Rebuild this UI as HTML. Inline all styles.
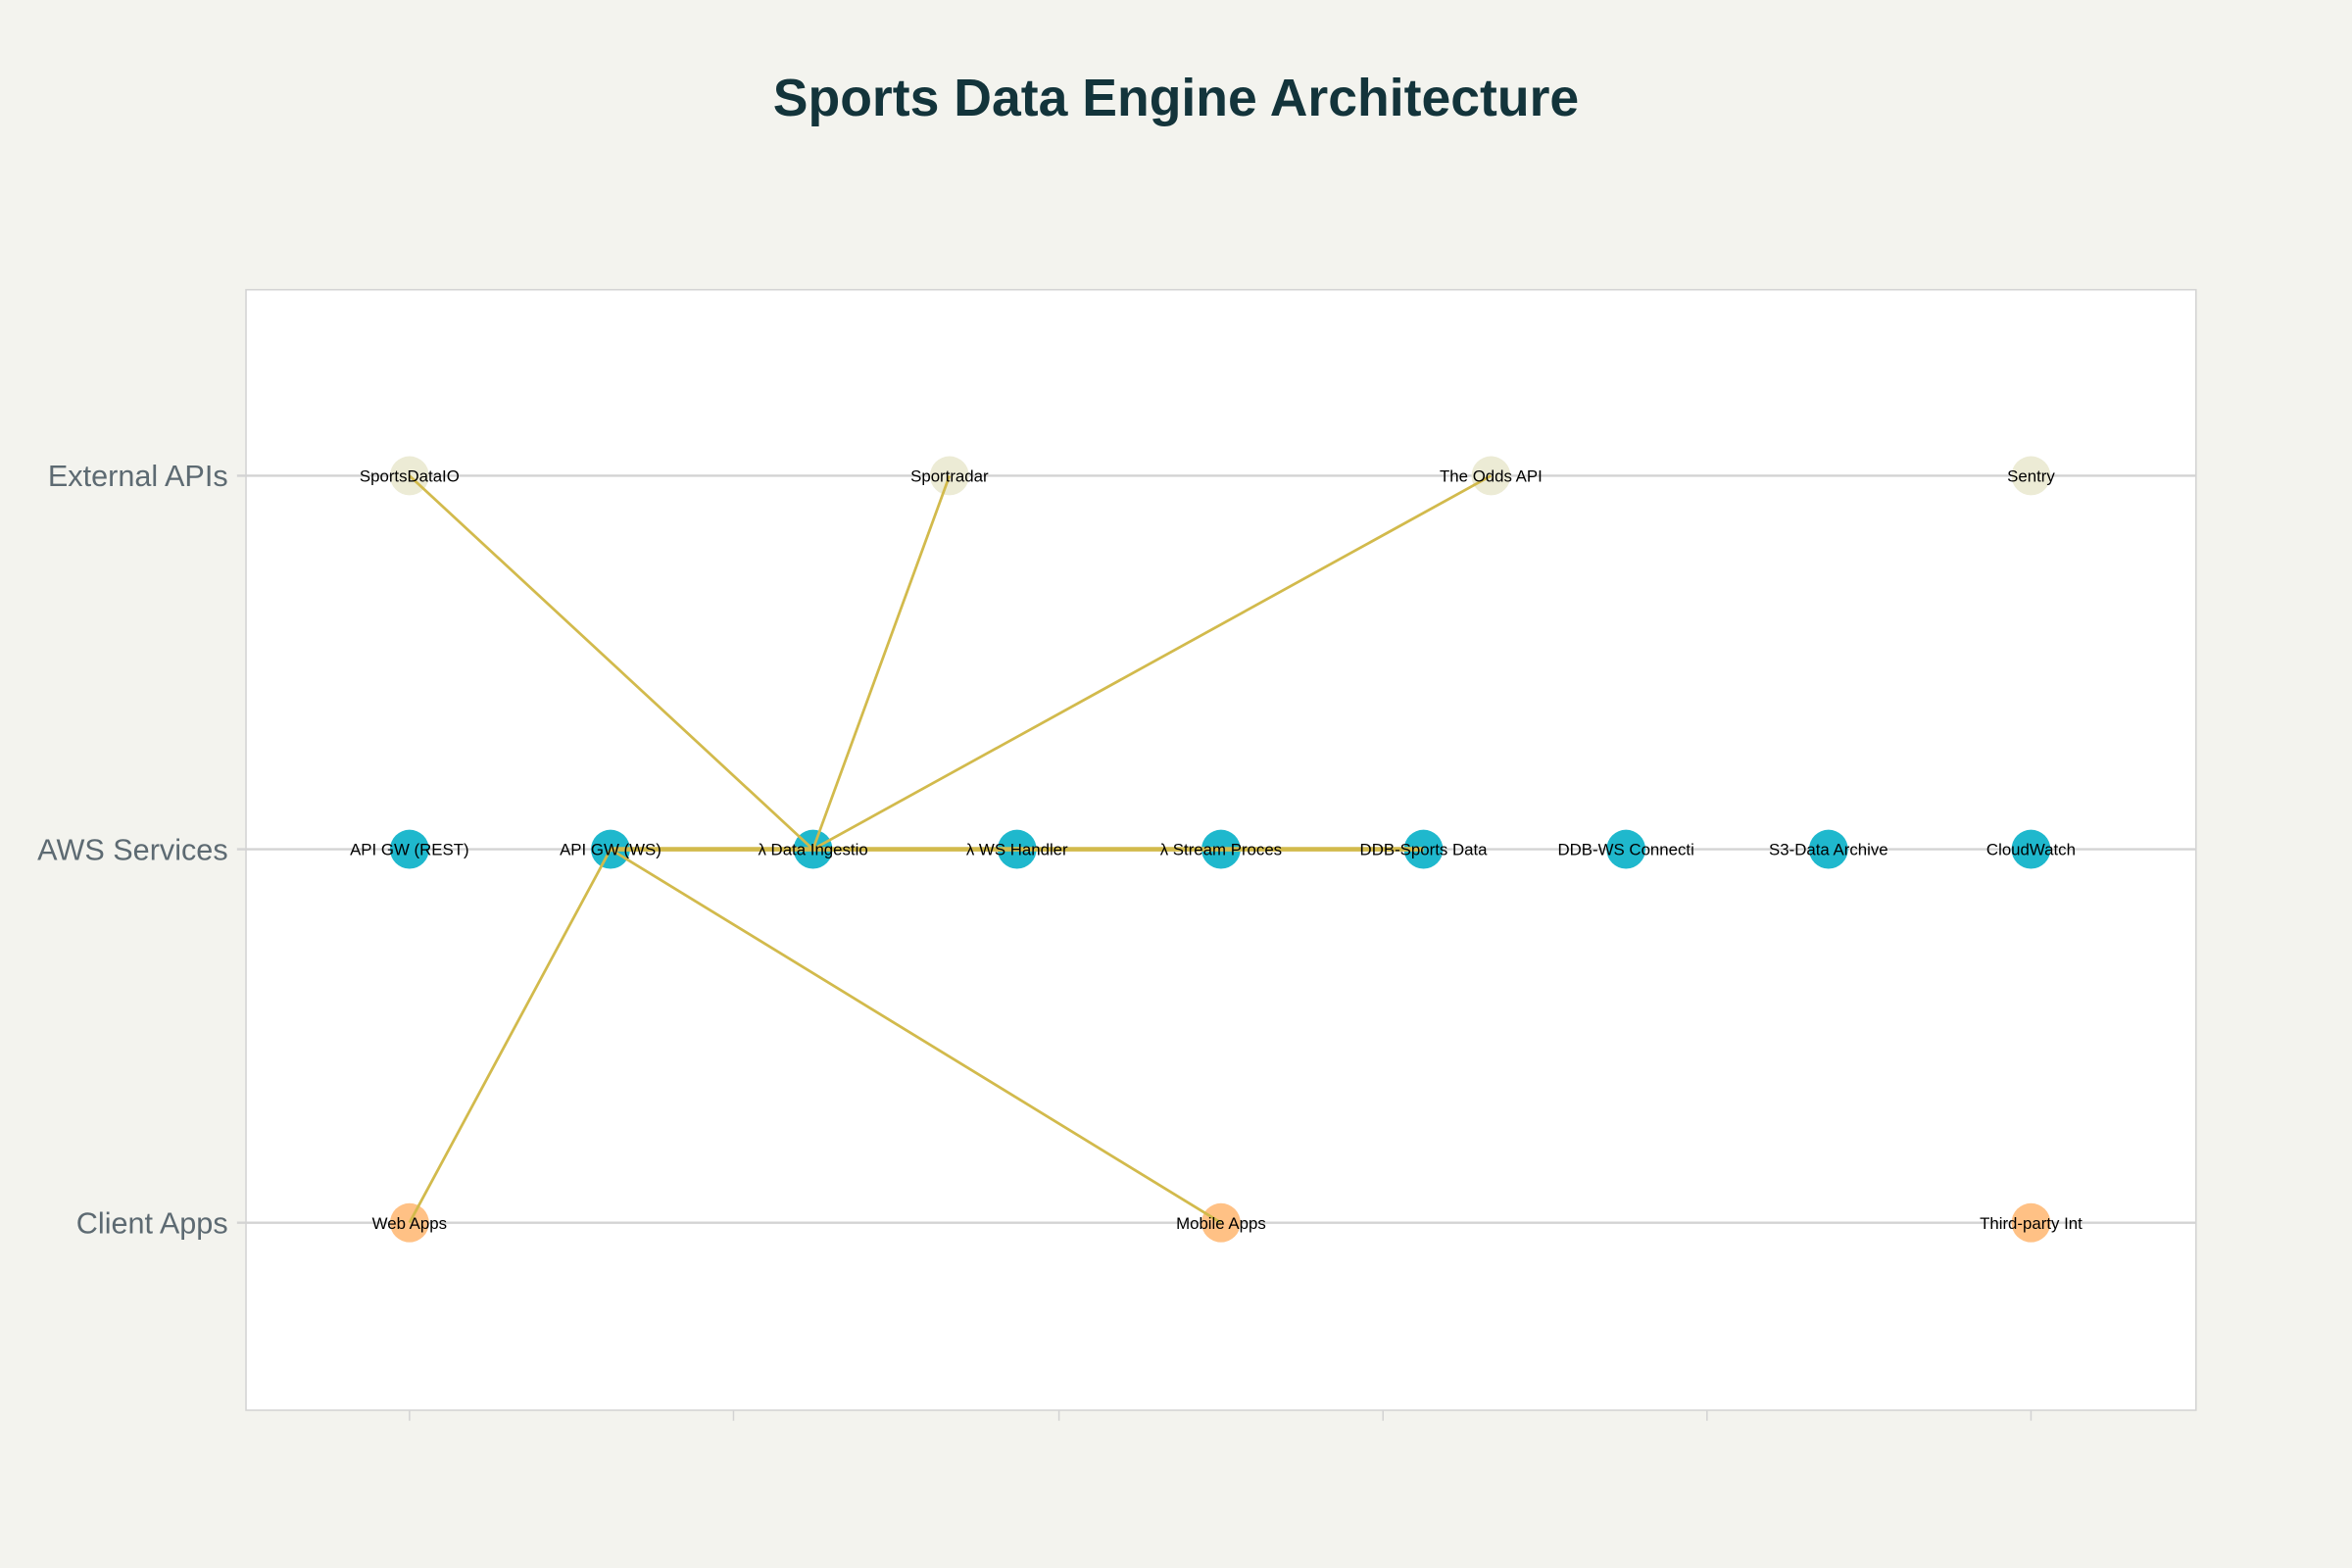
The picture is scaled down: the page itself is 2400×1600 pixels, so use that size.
<!DOCTYPE html>
<html><head><meta charset="utf-8"><style>html,body{margin:0;padding:0;background:#F3F3EE;}svg{display:block}</style></head>
<body>
<svg width="2400" height="1600" viewBox="0 0 1568 1045" xmlns="http://www.w3.org/2000/svg" font-family="Liberation Sans, sans-serif">
<rect width="1568" height="1045" fill="#F3F3EE"/>
<text x="784" y="77" text-anchor="middle" font-size="35" font-weight="bold" fill="#13343B">Sports Data Engine Architecture</text>
<rect x="164" y="193" width="1300" height="747" fill="#fff" stroke="#D3D3D3" stroke-width="1"/>
<g stroke="#D3D3D3" stroke-width="1.5">
<line x1="158" y1="317" x2="1464" y2="317"/>
<line x1="158" y1="566" x2="1464" y2="566"/>
<line x1="158" y1="815" x2="1464" y2="815"/>
</g>
<g stroke="#D3D3D3" stroke-width="1">
<line x1="273" y1="940" x2="273" y2="947"/><line x1="489" y1="940" x2="489" y2="947"/>
<line x1="706" y1="940" x2="706" y2="947"/><line x1="922" y1="940" x2="922" y2="947"/>
<line x1="1138" y1="940" x2="1138" y2="947"/><line x1="1354" y1="940" x2="1354" y2="947"/>
</g>
<g font-size="20" fill="#5D6A72" text-anchor="end">
<text x="152" y="324">External APIs</text>
<text x="152" y="573">AWS Services</text>
<text x="152" y="822">Client Apps</text>
</g>
<g fill="#ECEBD5">
<circle cx="273" cy="317" r="13"/><circle cx="633" cy="317" r="13"/><circle cx="994" cy="317" r="13"/><circle cx="1354" cy="317" r="13"/>
</g>
<g fill="#1FB8CD">
<circle cx="273" cy="566" r="13"/><circle cx="407" cy="566" r="13"/><circle cx="542" cy="566" r="13"/><circle cx="678" cy="566" r="13"/><circle cx="814" cy="566" r="13"/><circle cx="949" cy="566" r="13"/><circle cx="1084" cy="566" r="13"/><circle cx="1219" cy="566" r="13"/><circle cx="1354" cy="566" r="13"/>
</g>
<g fill="#FFC185">
<circle cx="273" cy="815" r="13"/><circle cx="814" cy="815" r="13"/><circle cx="1354" cy="815" r="13"/>
</g>
<g stroke="#D2BA4C" stroke-width="1.8" fill="none">
<line x1="273" y1="317" x2="542" y2="566"/>
<line x1="633" y1="317" x2="542" y2="566"/>
<line x1="994" y1="317" x2="542" y2="566"/>
<line x1="273" y1="815" x2="407" y2="566"/>
<line x1="407" y1="566" x2="814" y2="815"/>
<line x1="407" y1="566" x2="949" y2="566" stroke-width="3"/>
</g>
<g font-size="11" fill="#000" text-anchor="middle">
<text x="273" y="321">SportsDataIO</text><text x="633" y="321">Sportradar</text><text x="994" y="321">The Odds API</text><text x="1354" y="321">Sentry</text>
<text x="273" y="570">API GW (REST)</text><text x="407" y="570">API GW (WS)</text><text x="542" y="570">λ Data Ingestio</text><text x="678" y="570">λ WS Handler</text><text x="814" y="570">λ Stream Proces</text><text x="949" y="570">DDB-Sports Data</text><text x="1084" y="570">DDB-WS Connecti</text><text x="1219" y="570">S3-Data Archive</text><text x="1354" y="570">CloudWatch</text>
<text x="273" y="819">Web Apps</text><text x="814" y="819">Mobile Apps</text><text x="1354" y="819">Third-party Int</text>
</g>
</svg>
</body></html>
